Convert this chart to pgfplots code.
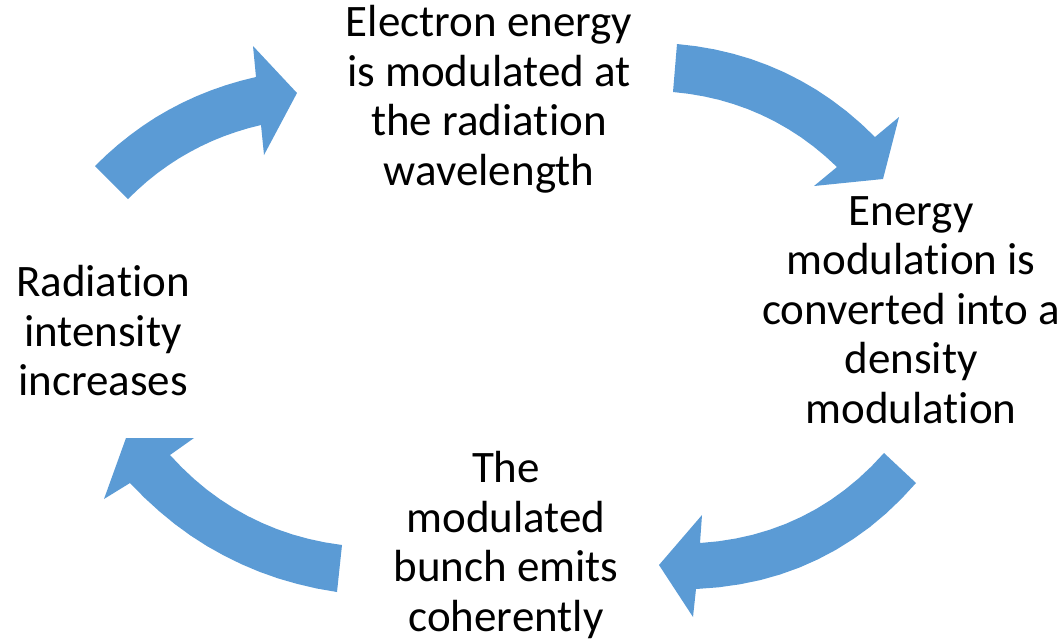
\documentclass[border=0pt]{standalone}
\usepackage{pgfplots}
\pgfplotsset{compat=1.18}
\usepackage{fontspec}
\setmainfont{Carlito}[Ligatures=NoCommon]
\definecolor{arrowblue}{HTML}{5B9BD5}
\begin{document}
\begin{tikzpicture}
\begin{axis}[
  x=1pt, y=1pt, scale only axis,
  xmin=0, xmax=1064, ymin=0, ymax=641,
  y dir=reverse, hide axis, clip=false,
]
% top-left arrow
\addplot[fill=arrowblue, draw=none] coordinates {
 (95,166) (106.4,155.0) (118.2,144.6) (130.4,134.9) (142.9,125.8) (155.7,117.4) (169.0,109.7)
 (182.6,102.6) (196.5,96.2) (210.9,90.4) (225.5,85.3) (240.6,80.8) (256,77)
 (253,46) (297,93) (264,155)
 (261,125) (248.3,128.2) (235.9,132.0) (223.7,136.3) (211.9,141.1) (200.4,146.5) (189.2,152.4)
 (178.2,158.8) (167.6,165.8) (157.2,173.3) (147.2,181.3) (137.5,189.9) (128,199)
} -- cycle;
% top-right arrow
\addplot[fill=arrowblue, draw=none] coordinates {
 (677,44) (696.1,46.2) (714.7,49.4) (732.9,53.7) (750.6,58.9) (767.8,65.2) (784.5,72.4)
 (800.8,80.7) (816.6,89.9) (831.9,100.2) (846.7,111.4) (861.1,123.7) (875,137)
 (899,117) (883,179) (814,186)
 (837,167) (825.4,156.3) (813.4,146.4) (801.0,137.3) (788.3,129.1) (775.1,121.6) (761.7,115.0)
 (747.8,109.1) (733.6,104.1) (719.0,99.8) (704.0,96.4) (688.7,93.8) (673,92)
} -- cycle;
% bottom-right arrow
\addplot[fill=arrowblue, draw=none] coordinates {
 (884,453)
 (916,483) (901.2,499.0) (885.8,513.7) (869.8,527.1) (853.1,539.1) (835.8,549.9) (817.8,559.4)
 (799.3,567.6) (780.1,574.5) (760.3,580.1) (739.8,584.3) (718.7,587.3) (696,589)
 (693,617) (659,565) (702,515)
 (700,543) (718.2,541.3) (735.8,538.5) (752.9,534.7) (769.5,529.8) (785.6,523.9) (801.2,516.9)
 (816.3,508.9) (830.9,499.8) (844.9,489.7) (858.5,478.5) (871.5,466.3)
} -- cycle;
% bottom-left arrow
\addplot[fill=arrowblue, draw=none] coordinates {
 (342,545) (325.1,542.4) (308.7,538.9) (292.7,534.5) (277.2,529.2) (262.2,523.0) (247.7,516.0)
 (233.5,508.0) (219.9,499.2) (206.7,489.5) (194.0,478.9) (181.8,467.4) (170,455)
 (194,438) (126,438) (104,499)
 (130,483) (144.3,497.6) (159.2,511.2) (174.6,523.9) (190.5,535.5) (207.0,546.1) (224.0,555.6)
 (241.5,564.2) (259.5,571.8) (278.1,578.4) (297.2,583.9) (316.8,588.5) (337,592)
} -- cycle;
\begin{scope}[every node/.style={align=center, font=\fontsize{45}{49.5}\selectfont, inner sep=0pt}]
\node at (axis cs:489,99) {Electron energy\\is modulated at\\the radiation\\wavelength};
\node at (axis cs:911,310) {Energy\\modulation is\\converted into a\\density\\modulation};
\node at (axis cs:506,545) {The\\modulated\\bunch emits\\coherently};
\node at (axis cs:103,331) {Radiation\\intensity\\increases};
\end{scope}
\end{axis}
\pgfresetboundingbox
\path (current axis.south west) rectangle (current axis.north east);
\end{tikzpicture}
\end{document}
